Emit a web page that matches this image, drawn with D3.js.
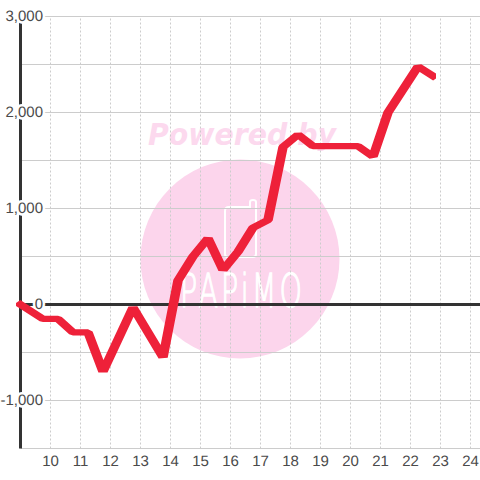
<!DOCTYPE html>
<html>
<head>
<meta charset="utf-8">
<script src="https://cdn.jsdelivr.net/npm/d3@7"></script>
<style>
  html, body { margin: 0; padding: 0; background: #fff; }
  svg { display: block; }
  text { font-family: "Liberation Sans", Arial, sans-serif; }
  .lbl text { font-size: 15px; fill: #4a4a4a; stroke: #fff; stroke-width: 5px; paint-order: stroke; stroke-linejoin: round; text-rendering: geometricPrecision; }
</style>
</head>
<body>
<div id="chart"></div>
<script>
// hour of day
const hours = [9, 9.75, 10.25, 10.75, 11.25, 11.75, 12.75, 13.75, 14.25, 14.75, 15.25, 15.75, 16.25, 16.75, 17.25, 17.75, 18.25, 18.75, 19.25, 20.25, 20.75, 21.25, 22.25, 22.75];
const values = [0, -150, -150, -290, -290, -700, -30, -550, 250, 500, 690, 360, 550, 800, 880, 1640, 1770, 1650, 1650, 1650, 1540, 2000, 2480, 2380];

const xTicks = [10, 11, 12, 13, 14, 15, 16, 17, 18, 19, 20, 21, 22, 23, 24];
const yLabels = [-1000, 0, 1000, 2000, 3000];
const yGrid = [-1500, -1000, -500, 0, 500, 1000, 1500, 2000, 2500, 3000];

const wrapper = d3.select("#chart").append("svg")
  .attr("width", 480)
  .attr("height", 480);

// scales
const xScale = d3.scaleLinear().domain([9, 24.333]).range([20.5, 480.5]);
const yScale = d3.scaleLinear().domain([-1500, 3000]).range([448.5, 16.5]);

// watermark
const mark = wrapper.append("g");
mark.append("text")
  .attr("x", 148).attr("y", 145)
  .attr("textLength", 188)
  .attr("lengthAdjust", "spacingAndGlyphs")
  .style("font-family", "'DejaVu Sans'")
  .style("font-weight", "bold")
  .style("font-style", "italic")
  .style("font-size", "31px")
  .attr("fill", "#fcd9ee")
  .text("Powered by");
mark.append("circle")
  .attr("cx", 240).attr("cy", 259).attr("r", 99.5)
  .attr("fill", "#fcd5ec");
// phone icon
mark.append("path")
  .attr("d", "M229 207H250V202Q250 200 253 200Q256 200 256 202V254Q256 257 253 257H228Q225 257 225 254V211Q225 207 229 207Z")
  .attr("fill", "none")
  .attr("stroke", "#fff")
  .attr("stroke-width", 2);
mark.append("text")
  .attr("x", 180).attr("y", 307)
  .attr("textLength", 125)
  .attr("lengthAdjust", "spacingAndGlyphs")
  .style("font-family", "'DejaVu Sans'")
  .style("font-weight", 200)
  .style("font-size", "46px")
  .style("letter-spacing", "5px")
  .attr("fill", "#fff")
  .attr("stroke", "#fff")
  .attr("stroke-width", 1.3)
  .text("PAPiMO");

// grid
wrapper.append("g")
  .attr("transform", "translate(0,448.5)")
  .call(d3.axisBottom(xScale).offset(0).tickValues(xTicks).tickSize(-432).tickFormat(""))
  .call(g => g.select(".domain").remove())
  .call(g => g.selectAll("line").attr("stroke", "#ccc").attr("stroke-dasharray", "2,2"));

wrapper.append("g")
  .attr("transform", "translate(20.5,0)")
  .call(d3.axisLeft(yScale).offset(0).tickValues(yGrid).tickSize(-460).tickFormat(""))
  .call(g => g.select(".domain").remove())
  .call(g => g.selectAll("line").attr("stroke", "#ccc"));

// axis lines
wrapper.append("line")
  .attr("x1", xScale(9)).attr("x2", 480)
  .attr("y1", yScale(0)).attr("y2", yScale(0))
  .attr("stroke", "#333").attr("stroke-width", 3);
wrapper.append("line")
  .attr("x1", xScale(9)).attr("x2", xScale(9))
  .attr("y1", yScale(3000)).attr("y2", yScale(-1500))
  .attr("stroke", "#333").attr("stroke-width", 3);

// labels, the halo cuts the lines below
const yAxis = wrapper.append("g")
  .attr("class", "lbl")
  .attr("transform", "translate(50,0)")
  .call(d3.axisLeft(yScale).offset(0).tickValues(yLabels).tickSize(0).tickPadding(7)
    .tickFormat(d => d3.format(",")(d).replace("\u2212", "-")));
yAxis.select(".domain").remove();

const xAxis = wrapper.append("g")
  .attr("class", "lbl")
  .attr("transform", "translate(0,448.5)")
  .call(d3.axisBottom(xScale).offset(0).tickValues(xTicks).tickSize(0).tickPadding(7).tickFormat(d3.format("d")));
xAxis.select(".domain").remove();

// line, the pen is wider than it is high so the y is squeezed on the g
const penY = 0.66;
const lineGenerator = d3.line()
  .x((d, i) => xScale(hours[i]))
  .y(d => yScale(d) / penY);

wrapper.append("clipPath").attr("id", "line-clip")
  .append("rect").attr("x", 16).attr("y", 0).attr("width", 420).attr("height", 480);

wrapper.append("g")
  .attr("clip-path", "url(#line-clip)")
  .append("g")
  .attr("transform", `scale(1,${penY})`)
  .append("path")
  .attr("d", lineGenerator(values))
  .attr("fill", "none")
  .attr("stroke", "#ee2139")
  .attr("stroke-width", 9.5)
  .attr("stroke-linejoin", "bevel")
  .attr("stroke-linecap", "square");
</script>
</body>
</html>
